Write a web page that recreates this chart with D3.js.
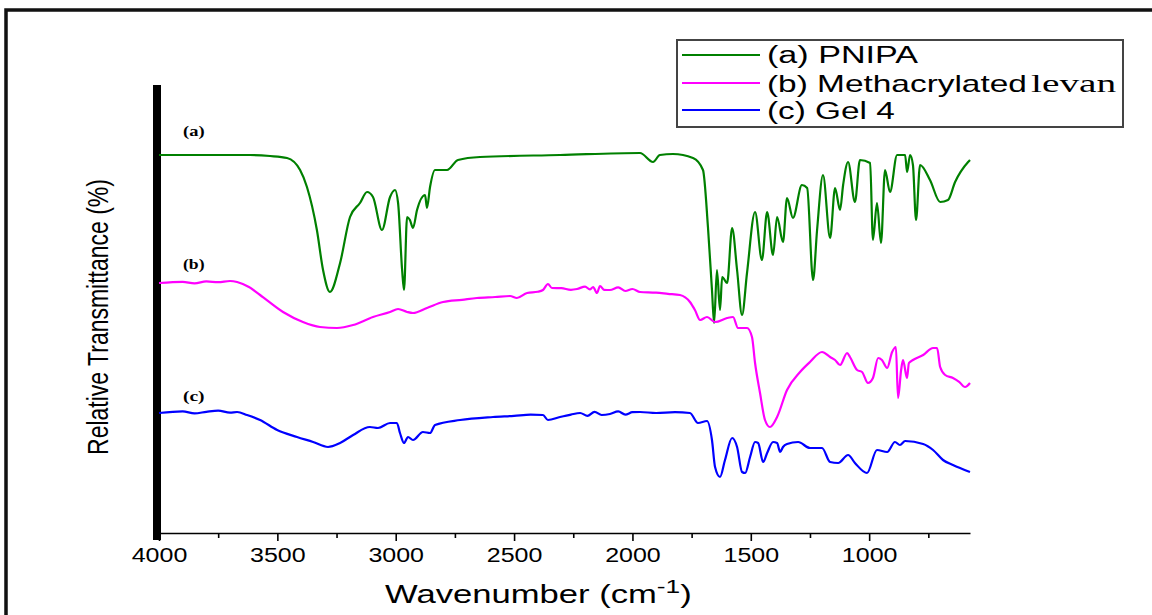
<!DOCTYPE html>
<html>
<head>
<meta charset="utf-8">
<script src="https://cdn.jsdelivr.net/npm/d3@7"></script>
<style>
  body { margin: 0; background: #fff; }
  svg { display: block; }
</style>
</head>
<body>
<script>
// FTIR spectra, [wavenumber (cm-1), relative transmittance]
const pnipa = [
  [4000,94.5],[3616,94.5],[3531,94.25],[3459,93.75],[3404,90.75],[3375,86.5],[3333,75.75],
  [3307,65.75],[3278,60.25],[3235,67.5],[3193,79],[3151,82.5],[3121,85.25],[3096,84],
  [3058,75.75],[3024,84],[3003,85.75],[2990,82.5],[2973,65.75],[2965,60.75],[2952,79],
  [2940,78.25],[2927,76.25],[2910,80.75],[2876,84.5],[2868,81.25],[2855,86.5],[2834,90.75],
  [2783,90.75],[2737,93.25],[2644,94],[2306,94.5],[1968,95],[1913,92.75],[1884,94.5],
  [1829,94.75],[1744,93.75],[1702,90.75],[1681,76.5],[1664,60.75],[1655,52.5],[1643,65.75],
  [1630,55.75],[1621,64],[1600,62.5],[1579,76.25],[1558,65.75],[1537,54.5],[1516,65],
  [1482,80.25],[1453,68.25],[1431,80.25],[1406,69.5],[1389,79],[1364,72.75],[1347,83.75],
  [1322,78.75],[1284,87],[1262,86.25],[1237,63.25],[1220,75.75],[1195,89.5],[1165,73.75],
  [1144,86.25],[1123,80.75],[1110,87],[1089,92.75],[1060,82.75],[1039,93.25],[996,92.5],
  [984,73.25],[967,82.5],[950,72.5],[933,90.75],[912,85.25],[882,94.5],[848,94.5],
  [840,90.25],[827,94.5],[815,92],[802,78.25],[785,92],[743,88.25],[700,82.75],[667,83.25],
  [637,87.75],[582,92.75],[574,93.25]
];

const levan = [
  [4000,62.5],[3900,62.8],[3850,62.4],[3800,62.9],[3750,62.7],[3700,63],[3670,62.75],
  [3620,61.5],[3573,59.5],[3476,55.25],[3392,52.75],[3320,51.5],[3248,51.25],[3180,52],
  [3096,54],[3024,55.25],[2990,56],[2952,55.25],[2927,55],[2868,56.25],[2800,57.75],
  [2720,58.3],[2657,58.75],[2580,59],[2517,59.25],[2488,58.75],[2445,60],[2400,60.3],
  [2378,60.75],[2357,62.25],[2340,61.25],[2300,61.2],[2260,60.8],[2234,61],[2200,61.6],
  [2180,60.9],[2166,61.5],[2150,60],[2137,61.75],[2120,60.8],[2095,60.75],[2060,61.4],
  [2030,60.5],[2000,61],[1968,60.25],[1900,60.1],[1850,59.8],[1799,59.5],[1757,57.75],
  [1736,55.75],[1714,53.25],[1685,54],[1651,52.75],[1600,53.75],[1575,54],[1554,51.25],
  [1516,51.25],[1495,49],[1482,42.5],[1461,35],[1440,28.25],[1419,26.5],[1389,29],
  [1347,35.75],[1292,40.25],[1250,42.75],[1199,45.25],[1165,44],[1144,43.25],[1123,42],
  [1093,45],[1081,44],[1051,40.75],[1030,40.25],[1005,37.5],[984,38.75],[962,43.75],
  [946,43.25],[924,41.25],[903,45.25],[887,46.5],[878,33.75],[865,40.75],[857,43.25],
  [840,38.75],[832,42.5],[815,43.25],[772,44.5],[730,46.25],[713,46.25],[700,41.5],
  [679,39.5],[646,38.75],[620,37.8],[595,36.5],[574,37.5]
];

const gel4 = [
  [4000,30],[3900,30.4],[3850,29.9],[3800,30.3],[3750,30.6],[3700,30.1],[3670,30.25],
  [3628,29.5],[3573,28.25],[3501,25.75],[3417,24],[3349,22.75],[3286,21.5],[3235,22.5],
  [3180,24.5],[3109,26.5],[3075,26.25],[3024,27.5],[2995,27.5],[2982,25],[2965,22.5],
  [2948,24],[2927,23.25],[2885,25.25],[2855,25],[2834,27],[2728,28.25],[2589,29],
  [2500,29.3],[2430,29.6],[2378,29.5],[2357,28.25],[2306,29],[2260,29.6],[2221,30],
  [2190,29.3],[2160,30.3],[2130,29.5],[2095,29.75],[2060,30.4],[2030,29.6],[2000,30.2],
  [1968,30.25],[1900,30],[1820,30.2],[1757,30],[1723,27.5],[1685,28],[1664,23.25],
  [1651,16.5],[1630,14],[1609,18.25],[1579,23.75],[1558,21.5],[1537,15.25],[1524,15],
  [1503,19],[1482,22.75],[1469,22.5],[1448,17.75],[1431,20],[1406,22.75],[1389,22.5],
  [1376,20.25],[1364,21.5],[1347,22.25],[1300,22.75],[1250,21.25],[1199,21.25],
  [1165,17.75],[1131,17.5],[1089,19.5],[1060,17.5],[1009,15],[967,20.75],[924,20.25],
  [891,22.75],[870,22],[848,23],[772,22.25],[730,20.75],[688,18.25],[646,17],[574,15.25]
];

const seriesNames = ["(a) PNIPA", "(b) Methacrylated", "(c) Gel 4"];
const seriesColors = ["#008000", "#ff00ff", "#0000ff"];
const curveTags = ["(a)", "(b)", "(c)"];
const majorTicks = [4000, 3500, 3000, 2500, 2000, 1500, 1000];
const minorTicks = [3750, 3250, 2750, 2250, 1750, 1250, 750];

const width = 1152, height = 615;
const sans = "'Liberation Sans', Arial, sans-serif";
const serif = "'Liberation Serif', 'Times New Roman', serif";

let svg = d3.select("body").append("svg")
            .attr("width", width)
            .attr("height", height);

// outer frame (top + left only)
svg.append("path")
   .attr("d", "M6,615V10H1152")
   .attr("fill", "none")
   .attr("stroke", "#111")
   .attr("stroke-width", 3.5);

let x = d3.scaleLinear().domain([4000, 574]).range([159, 970]);
let y = d3.scaleLinear().domain([0, 112]).range([533, 85]);

// stretch a text element horizontally to a given width, left edge at x0
function stretchText(g, x0, y0, w) {
  let bb = g.node().getBBox();
  g.attr("transform", "translate(" + (x0 - bb.x * w / bb.width) + "," + y0 + ") scale(" + (w / bb.width) + ",1)");
}

// x axis
let xAxis = svg.append("g")
   .attr("transform", "translate(0,533)")
   .call(d3.axisBottom(x).tickValues(majorTicks).tickSize(8).tickSizeOuter(0).tickFormat(d3.format("d")));
xAxis.select(".domain").attr("stroke", "#000").attr("stroke-width", 1.6);
xAxis.selectAll(".tick line").attr("stroke-width", 1.6);
xAxis.selectAll(".tick text")
     .attr("y", 15)
     .attr("font-family", sans)
     .attr("font-size", 20)
     .attr("fill", "#000")
     .attr("transform", "scale(1.25,1)");

let xMinor = svg.append("g")
   .attr("transform", "translate(0,533)")
   .call(d3.axisBottom(x).tickValues(minorTicks).tickSize(5).tickSizeOuter(0).tickFormat(""));
xMinor.select(".domain").remove();
xMinor.selectAll(".tick line").attr("stroke-width", 1.6);

// thick left axis
svg.append("line")
   .attr("x1", 157).attr("x2", 157)
   .attr("y1", y(112)).attr("y2", 540)
   .attr("stroke", "#000")
   .attr("stroke-width", 8);

// axis titles
let xt = svg.append("g");
let xtText = xt.append("text")
   .attr("font-family", sans)
   .attr("font-size", 25)
   .attr("fill", "#000");
xtText.append("tspan").text("Wavenumber (cm");
xtText.append("tspan").attr("dy", -10).attr("font-size", 19).text("-1");
xtText.append("tspan").attr("dy", 10).text(")");
stretchText(xt, 385, 603, 307);

svg.append("g")
   .attr("transform", "translate(108,317) scale(1.3,1) rotate(-90)")
   .append("text")
   .attr("text-anchor", "middle")
   .attr("font-family", sans)
   .attr("font-size", 23)
   .attr("fill", "#000")
   .text("Relative Transmittance (%)");

// spectra
let line = d3.line()
   .curve(d3.curveMonotoneX)
   .x(function(d) { return x(d[0]); })
   .y(function(d) { return y(d[1]); });

[pnipa, levan, gel4].forEach(function(s, i) {
  svg.append("path")
     .datum(s)
     .attr("d", line)
     .attr("fill", "none")
     .attr("stroke", seriesColors[i])
     .attr("stroke-width", 2.2)
     .attr("stroke-linejoin", "round");
});

// curve tags
[[136], [269], [401]].forEach(function(p, i) {
  let g = svg.append("g");
  g.append("text")
   .attr("font-family", serif)
   .attr("font-weight", "bold")
   .attr("font-size", 14)
   .attr("fill", "#000")
   .text(curveTags[i]);
  stretchText(g, 183, p[0], 22);
});

// legend
svg.append("rect")
   .attr("x", 677).attr("y", 40)
   .attr("width", 446).attr("height", 87)
   .attr("fill", "#fff")
   .attr("stroke", "#444")
   .attr("stroke-width", 2);

let legendY = [55, 83, 110];
let legendBase = [63, 92, 119];
let legendW = [152, 260, 128];
seriesNames.forEach(function(name, i) {
  svg.append("line")
     .attr("x1", 682).attr("x2", 760)
     .attr("y1", legendY[i]).attr("y2", legendY[i])
     .attr("stroke", seriesColors[i])
     .attr("stroke-width", 2);
  let g = svg.append("g");
  g.append("text")
   .attr("font-family", sans)
   .attr("font-size", 23)
   .attr("fill", "#000")
   .text(name);
  stretchText(g, 767, legendBase[i], legendW[i]);
});
let lv = svg.append("g");
lv.append("text")
  .attr("font-family", serif)
  .attr("font-size", 25)
  .attr("fill", "#000")
  .text("levan");
stretchText(lv, 1031, 92, 86);
</script>
</body>
</html>
